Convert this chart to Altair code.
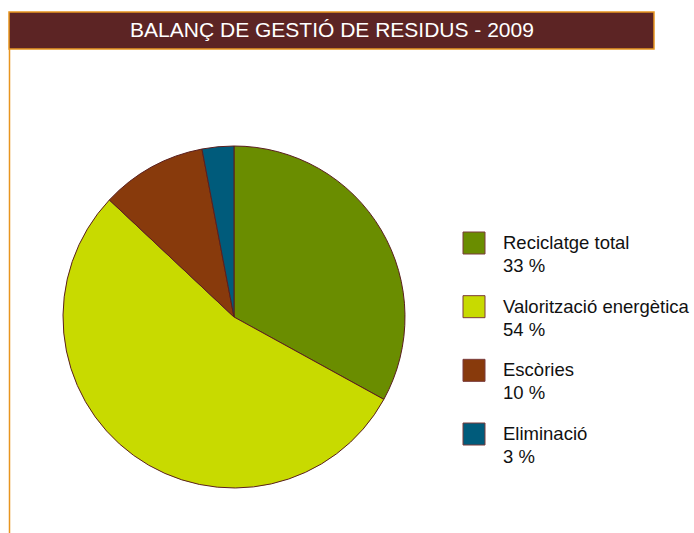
import altair as alt
import pandas as pd

categories = ["Reciclatge total", "Valorització energètica", "Escòries", "Eliminació"]
values = [33, 54, 10, 3]
pct_labels = ["33 %", "54 %", "10 %", "3 %"]
colors = ["#6a8d00", "#c8da00", "#883a0c", "#005b7b"]
title_text = "BALANÇ DE GESTIÓ DE RESIDUS - 2009"

df = pd.DataFrame({
    "cat": categories,
    "value": values,
    "pct": pct_labels,
    "idx": list(range(len(categories))),
})

W, H = 694, 533
font = "Liberation Sans"

color_scale = alt.Scale(domain=categories, range=colors)

base = alt.Chart(df)

title_rect = alt.Chart(pd.DataFrame({"a": [0]})).mark_rect(
    fill="#5c2424", stroke="#e8951f", strokeWidth=1.5
).encode(x=alt.value(9), x2=alt.value(654), y=alt.value(12), y2=alt.value(49))

title_txt = alt.Chart(pd.DataFrame({"a": [0]})).mark_text(
    color="white", font=font, fontSize=21, align="center", baseline="middle"
).encode(x=alt.value(332), y=alt.value(31), text=alt.value(title_text))

left_rule = alt.Chart(pd.DataFrame({"a": [0]})).mark_rule(
    color="#e8951f", strokeWidth=1.5
).encode(x=alt.value(9.5), y=alt.value(49), y2=alt.value(533))

pie = base.mark_arc(outerRadius=171, stroke="#5a1f1f", strokeWidth=1).encode(
    theta=alt.Theta("value:Q", stack=True),
    color=alt.Color("cat:N", scale=color_scale, legend=None),
    order=alt.Order("idx:Q"),
    x=alt.value(234),
    y=alt.value(317),
)

yscale = alt.Scale(domain=[-3.817, 4.555], range=[0, H])

leg_sq = base.mark_square(size=484, stroke="#7a3a3a", strokeWidth=1, opacity=1).encode(
    x=alt.value(474),
    y=alt.Y("idx:Q", scale=yscale, axis=None),
    color=alt.Color("cat:N", scale=color_scale, legend=None),
)

leg_txt1 = base.mark_text(
    align="left", baseline="middle", font=font, fontSize=18.5, color="#111111"
).encode(
    x=alt.value(503),
    y=alt.Y("idx:Q", scale=yscale, axis=None),
    text="cat:N",
)

leg_txt2 = base.mark_text(
    align="left", baseline="middle", font=font, fontSize=18.5, color="#111111", dy=23
).encode(
    x=alt.value(503),
    y=alt.Y("idx:Q", scale=yscale, axis=None),
    text="pct:N",
)

chart = alt.layer(
    title_rect, title_txt, left_rule, pie, leg_sq, leg_txt1, leg_txt2
).properties(
    width=W, height=H, padding=0, autosize=alt.AutoSizeParams(type="none"),
    background="white",
).configure_view(stroke=None)

chart.save("out.html", embed_options={"renderer": "svg", "actions": False})
